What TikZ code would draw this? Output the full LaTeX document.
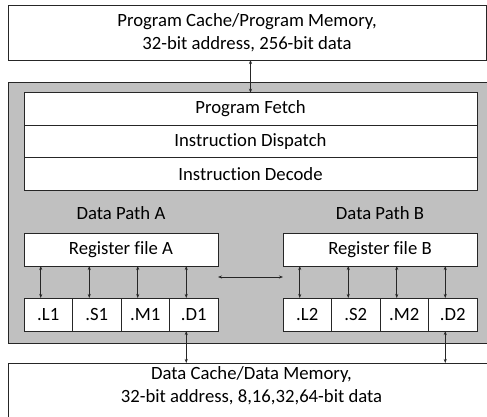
\documentclass[tikz,border=0pt]{standalone}
\usepackage{fontspec}
\setmainfont[Ligatures=NoCommon]{Carlito}
\usetikzlibrary{arrows.meta,positioning,calc}
\definecolor{coregray}{HTML}{C0C0C0}
\definecolor{edge}{HTML}{262626}

\begin{document}
\begin{tikzpicture}[
  x=1pt, y=-1pt,
  box/.style={draw=edge, fill=white, minimum width=#1, minimum height=33pt, inner sep=0pt, outer sep=0pt, align=center, line width=0.7pt},
  box/.default=48.5pt,
  unit/.style={box=48.5pt},
  arrow/.style={{Stealth[length=4pt,width=3pt]}-{Stealth[length=4pt,width=3pt]}, line width=0.6pt, draw=edge},
  font=\fontsize{18.7}{22.8}\selectfont,
]
  \useasboundingbox (0,0) rectangle (487,417);
  \clip (0,0) rectangle (487,417);

  % Program memory
  \node[box=478pt, minimum height=55pt] (pmem) at (247,32.5) {Program Cache/Program Memory,\\32-bit address, 256-bit data};

  % CPU core
  \node[draw=edge, fill=coregray, minimum width=487pt, minimum height=261pt, inner sep=0pt, line width=0.7pt] (core) at (251.5,212.5) {};

  % Fetch / dispatch / decode
  \node[box=453pt, minimum height=32.5pt] (fetch) at (250.5,109) {Program Fetch};
  \node[box=453pt, minimum height=32.5pt, below=0pt of fetch] (dispatch) {Instruction Dispatch};
  \node[box=453pt, minimum height=32.5pt, below=0pt of dispatch] (decode) {Instruction Decode};

  % Data path A
  \node[box=194pt] (rega) at (121,249.5) {Register file A};
  \node[above=13pt of rega, inner sep=0pt] (patha) {Data Path A};
  \node[unit, anchor=north west] (l1) at (24,298) {.L1};
  \node[unit, right=0pt of l1] (s1) {.S1};
  \node[unit, right=0pt of s1] (m1) {.M1};
  \node[unit, right=0pt of m1] (d1) {.D1};

  % Data path B
  \node[box=194pt] (regb) at (380,249.5) {Register file B};
  \node[above=13pt of regb, inner sep=0pt] (pathb) {Data Path B};
  \node[unit, anchor=north west] (l2) at (283,298) {.L2};
  \node[unit, right=0pt of l2] (s2) {.S2};
  \node[unit, right=0pt of s2] (m2) {.M2};
  \node[unit, right=0pt of m2] (d2) {.D2};

  % Data memory
  \node[box=487pt, anchor=north west, inner ysep=4pt, text depth=45pt] (dmem) at (8,363) {Data Cache/Data Memory,\\32-bit address, 8,16,32,64-bit data};

  % Arrows
  \draw[arrow] (fetch.north) -- (fetch.north |- pmem.south);
  \foreach \u in {l1,s1,m1,d1}
    \draw[arrow] ([xshift=-7.5pt]\u.north) -- ([xshift=-7.5pt]\u.north |- rega.south);
  \foreach \u in {l2,s2,m2,d2}
    \draw[arrow] ([xshift=-7.5pt]\u.north) -- ([xshift=-7.5pt]\u.north |- regb.south);
  \draw[arrow] ([yshift=-11pt]rega.south east) -- ([yshift=-11pt]regb.south west);
  \draw[arrow] ([xshift=-7.5pt]d1.south) -- ([xshift=-7.5pt]d1.south |- dmem.north);
  \draw[arrow] ([xshift=-7.5pt]d2.south) -- ([xshift=-7.5pt]d2.south |- dmem.north);
\end{tikzpicture}
\end{document}
